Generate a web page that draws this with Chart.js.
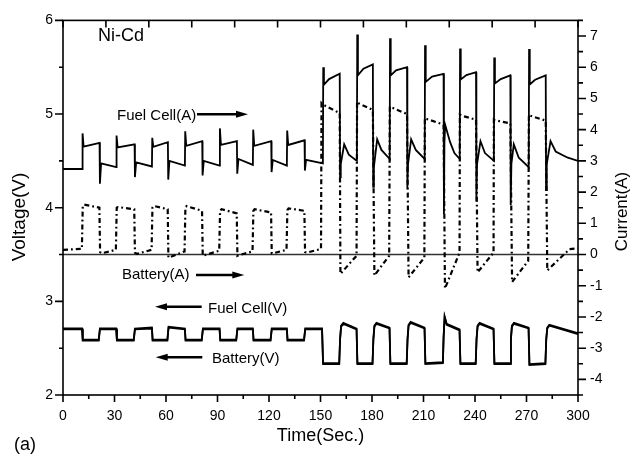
<!DOCTYPE html>
<html>
<head>
<meta charset="utf-8">
<script src="https://cdn.jsdelivr.net/npm/chart.js@4"></script>
<style>
html,body{margin:0;padding:0;background:#fff;}
canvas{display:block;}
</style>
</head>
<body>
<canvas id="c" width="644" height="458"></canvas>
<script>
// ---------- DATA ----------
// x tick labels (seconds), left ticks (V), right ticks (A)
const xTicks = [0,30,60,90,120,150,180,210,240,270,300];
const xMinorTicks = [15,45,75,105,135,165,195,225,255,285];
const topTicks = [0,25,50,75,100,125,150,175,200,225,250,275,300];
const leftTicks = [2,3,4,5,6];
const leftMinorTicks = [2.5,3.5,4.5,5.5];
const rightTicks = [-4,-3,-2,-1,0,1,2,3,4,5,6,7];
const rightMinorTicks = [-4.5,-3.5,-2.5,-1.5,-0.5,0.5,1.5,2.5,3.5,4.5,5.5,6.5,7.5];

// Fuel cell current (A), right axis
const fcCurT = [0,11.2,
 11.4,12.0,21.3,21.5,22.2,31.0,
 31.2,31.8,41.7,41.9,42.6,51.8,
 52.0,52.6,61.1,61.3,62.0,71.0,
 71.2,71.8,81.1,81.3,82.0,91.2,
 91.4,92.0,101.3,101.5,102.2,110.6,
 110.8,111.4,121.3,121.5,122.2,130.4,
 130.6,131.2,140.7,140.9,141.6,151.4,
 151.6,152.0,155.0,161.2,161.4,161.8,163.8,166.5,171.2,
 171.4,171.8,175.0,180.5,180.7,181.1,183.0,185.5,190.3,
 190.5,190.9,194.0,200.4,200.6,201.0,202.8,205.5,210.7,
 210.9,211.3,215.0,221.7,221.9,222.2,222.6,225.5,228.0,231.1,
 231.3,231.7,235.0,240.6,240.8,241.2,243.2,245.8,251.0,
 251.2,251.6,255.0,260.6,260.8,261.2,262.6,265.5,271.3,
 271.5,271.9,275.0,281.2,281.4,281.8,284.0,287.0,293.7,300];
const fcCurA = [2.74,2.74,
 3.88,3.46,3.58,2.27,2.92,2.80,
 3.81,3.43,3.53,2.48,2.95,2.82,
 3.74,3.45,3.60,2.40,3.00,2.85,
 3.95,3.48,3.63,2.53,3.00,2.85,
 4.04,3.51,3.63,2.59,3.06,2.87,
 4.00,3.48,3.63,2.64,3.03,2.85,
 3.97,3.51,3.66,2.69,3.03,2.92,
 6.00,5.44,5.62,5.79,2.48,2.90,3.53,3.20,3.00,
 7.05,5.74,5.95,6.09,2.17,2.80,3.69,3.35,3.06,
 6.93,5.74,5.90,6.00,2.11,2.90,3.69,3.35,3.06,
 6.70,5.53,5.70,5.79,1.30,3.60,4.16,3.60,3.25,3.06,
 6.60,5.61,5.75,5.84,1.70,2.90,3.63,3.25,3.00,
 6.31,5.48,5.62,5.74,1.59,2.90,3.53,3.10,2.80,
 6.58,5.45,5.60,5.74,2.06,2.90,3.63,3.30,3.11,3.00];

// Battery current (A), right axis
const batCurT = [0,11.0,11.5,12.3,21.2,21.6,22.5,30.8,
 31.3,32.0,41.5,41.9,43.0,51.6,
 52.1,52.8,61.0,61.4,62.5,70.8,
 71.3,72.0,81.0,81.4,82.5,91.0,
 91.5,92.3,101.2,101.6,102.5,110.4,
 110.9,111.6,121.2,121.6,122.5,130.2,
 130.7,131.4,140.6,141.0,142.0,150.3,
 150.6,151.5,161.2,161.6,170.0,171.0,
 171.3,172.0,180.5,181.4,190.0,
 190.4,191.0,200.4,201.3,210.5,
 210.8,211.5,221.7,222.5,231.0,
 231.2,232.0,240.6,241.5,250.8,
 251.0,251.7,260.6,261.6,271.0,
 271.4,272.0,281.2,282.1,295.0,300];
const batCurA = [0.15,0.18,1.55,1.60,1.50,0.08,0.04,0.15,
 1.50,1.52,1.45,0.06,0.02,0.15,
 1.50,1.56,1.45,-0.10,-0.08,0.10,
 1.50,1.55,1.40,-0.04,-0.02,0.12,
 1.40,1.45,1.32,-0.04,-0.02,0.10,
 1.40,1.45,1.35,0.04,0.04,0.15,
 1.42,1.48,1.40,0.08,0.06,0.18,
 4.85,4.80,4.53,-0.62,-0.10,-0.05,
 4.90,4.85,4.63,-0.67,-0.04,
 4.74,4.72,4.50,-0.73,-0.10,
 4.37,4.35,4.16,-1.09,0.06,
 4.48,4.45,4.32,-0.57,0.06,
 4.32,4.30,4.20,-0.88,-0.20,
 4.48,4.45,4.29,-0.51,0.17,0.20];

// Voltages (V), left axis
const voltT = [0,11.1,11.5,20.8,21.5,31.0,31.4,41.2,41.9,51.8,52.2,60.8,61.5,71.0,71.4,80.8,81.5,91.2,91.6,100.9,101.6,110.6,111.0,120.9,121.6,130.4,130.8,140.4,141.1,150.9,
 151.5,160.9,161.4,162.0,163.3,171.0,171.5,180.3,180.8,181.4,182.6,190.2,190.7,200.2,200.7,201.3,202.5,210.6,211.1,221.3,221.7,222.3,223.5,231.0,231.5,240.4,240.9,241.5,242.7,250.8,251.3,260.4,260.9,261.5,262.7,271.2,271.7,281.0,281.5,282.1,283.3,300];
const fcVolt = [2.71,2.71,2.59,2.59,2.71,2.71,2.59,2.59,2.71,2.72,2.59,2.59,2.73,2.71,2.59,2.59,2.71,2.71,2.59,2.59,2.71,2.71,2.59,2.59,2.71,2.71,2.59,2.59,2.71,2.71,
 2.34,2.34,2.60,2.74,2.77,2.71,2.34,2.34,2.60,2.74,2.77,2.72,2.34,2.34,2.60,2.75,2.78,2.72,2.34,2.35,2.62,2.84,2.76,2.70,2.34,2.34,2.60,2.74,2.77,2.71,2.34,2.34,2.60,2.74,2.77,2.72,2.33,2.34,2.60,2.72,2.75,2.66];
const batVolt = [2.70,2.70,2.58,2.58,2.70,2.70,2.58,2.58,2.70,2.71,2.58,2.58,2.72,2.70,2.58,2.58,2.70,2.70,2.58,2.58,2.70,2.70,2.58,2.58,2.70,2.70,2.58,2.58,2.70,2.70,
 2.33,2.33,2.59,2.73,2.76,2.70,2.33,2.33,2.59,2.73,2.76,2.71,2.33,2.33,2.59,2.74,2.77,2.71,2.33,2.34,2.61,2.83,2.75,2.69,2.33,2.33,2.59,2.73,2.76,2.70,2.33,2.33,2.59,2.73,2.76,2.71,2.32,2.33,2.59,2.71,2.74,2.65];

// ---------- CHART ----------
const FONT = 'Liberation Sans, Arial, Helvetica, sans-serif';
const toXY = (t, v) => t.map((x, i) => ({x: x, y: v[i]}));

function drawArrow(ctx, x1, x2, y) {
  const dir = x2 > x1 ? 1 : -1;
  const headLen = 12, headHalf = 3.5;
  ctx.beginPath();
  ctx.lineWidth = 2.6;
  ctx.moveTo(x1, y);
  ctx.lineTo(x2 - dir * headLen + dir * 1, y);
  ctx.stroke();
  ctx.beginPath();
  ctx.moveTo(x2, y);
  ctx.lineTo(x2 - dir * headLen, y - headHalf);
  ctx.lineTo(x2 - dir * headLen, y + headHalf);
  ctx.closePath();
  ctx.fill();
}

const framePlugin = {
  id: 'frame',
  beforeDatasetsDraw(chart) {
    const {ctx, chartArea: a, scales} = chart;
    const y0 = scales.yR.getPixelForValue(0);
    ctx.save();
    ctx.strokeStyle = '#333';
    ctx.lineWidth = 1.5;
    ctx.beginPath();
    ctx.moveTo(a.left, y0);
    ctx.lineTo(a.right, y0);
    ctx.stroke();
    ctx.restore();
  },
  afterDraw(chart) {
    const {ctx, chartArea: a, scales} = chart;
    const sx = scales.x, yl = scales.yL, yr = scales.yR;
    ctx.save();
    ctx.strokeStyle = '#000';
    ctx.fillStyle = '#000';
    ctx.lineWidth = 1.6;
    ctx.strokeRect(a.left, a.top, a.right - a.left, a.bottom - a.top);
    ctx.beginPath();
    xTicks.forEach(v => { const p = sx.getPixelForValue(v); ctx.moveTo(p, a.bottom); ctx.lineTo(p, a.bottom + 7); });
    xMinorTicks.forEach(v => { const p = sx.getPixelForValue(v); ctx.moveTo(p, a.bottom); ctx.lineTo(p, a.bottom + 4); });
    topTicks.forEach(v => { const p = sx.getPixelForValue(v); ctx.moveTo(p, a.top); ctx.lineTo(p, a.top + 7); });
    leftTicks.forEach(v => { const p = yl.getPixelForValue(v); ctx.moveTo(a.left, p); ctx.lineTo(a.left - 8, p); });
    leftMinorTicks.forEach(v => { const p = yl.getPixelForValue(v); ctx.moveTo(a.left, p); ctx.lineTo(a.left - 4, p); });
    rightTicks.forEach(v => { const p = yr.getPixelForValue(v); ctx.moveTo(a.right, p); ctx.lineTo(a.right + 8, p); });
    rightMinorTicks.forEach(v => { const p = yr.getPixelForValue(v); ctx.moveTo(a.right, p); ctx.lineTo(a.right + 5, p); });
    ctx.stroke();

    ctx.textAlign = 'left';
    ctx.textBaseline = 'alphabetic';
    ctx.font = '18px ' + FONT;
    ctx.fillText('Ni-Cd', 98, 41);
    ctx.fillText('(a)', 14, 449.5);
    ctx.textAlign = 'center';
    ctx.fillText('Time(Sec.)', 320.5, 441);

    ctx.textAlign = 'left';
    ctx.font = '15px ' + FONT;
    ctx.fillText('Fuel Cell(A)', 117, 120);
    ctx.fillText('Battery(A)', 122, 278.5);
    ctx.fillText('Fuel Cell(V)', 208, 312.7);
    ctx.fillText('Battery(V)', 212, 363);

    drawArrow(ctx, 197, 248, 114.3);
    drawArrow(ctx, 196, 244.3, 275);
    drawArrow(ctx, 201.7, 155, 306.7);
    drawArrow(ctx, 202.3, 155.7, 357.3);

    ctx.textAlign = 'center';
    ctx.textBaseline = 'middle';
    ctx.save();
    ctx.translate(20, 217);
    ctx.rotate(-Math.PI / 2);
    ctx.font = '19px ' + FONT;
    ctx.fillText('Voltage(V)', 0, 0);
    ctx.restore();
    ctx.save();
    ctx.translate(622, 211.5);
    ctx.rotate(-Math.PI / 2);
    ctx.font = '17px ' + FONT;
    ctx.fillText('Current(A)', 0, 0);
    ctx.restore();
    ctx.restore();
  }
};

const tickFont = {family: FONT, size: 14};
const setTicks = arr => (s => { s.ticks = arr.map(v => ({value: v})); });

new Chart(document.getElementById('c'), {
  type: 'line',
  data: {
    datasets: [
      {label: 'Fuel Cell(A)', data: toXY(fcCurT, fcCurA), yAxisID: 'yR', borderColor: '#000', borderWidth: 1.8, pointRadius: 0, tension: 0},
      {label: 'Battery(A)', data: toXY(batCurT, batCurA), yAxisID: 'yR', borderColor: '#000', borderWidth: 2.2, borderDash: [5, 3, 1.8, 3], pointRadius: 0, tension: 0},
      {label: 'Fuel Cell(V)', data: toXY(voltT, fcVolt), yAxisID: 'yL', borderColor: '#000', borderWidth: 1.8, pointRadius: 0, tension: 0},
      {label: 'Battery(V)', data: toXY(voltT, batVolt), yAxisID: 'yL', borderColor: '#000', borderWidth: 1.8, pointRadius: 0, tension: 0}
    ]
  },
  options: {
    responsive: false,
    animation: false,
    devicePixelRatio: 1,
    layout: {padding: {top: 14, left: 0, right: 0, bottom: 0}},
    plugins: {legend: {display: false}, tooltip: {enabled: false}},
    scales: {
      x: {
        type: 'linear', position: 'bottom', min: 0, max: 300,
        grid: {display: false, drawTicks: false}, border: {display: false},
        ticks: {font: tickFont, color: '#000', padding: 13, maxRotation: 0, autoSkip: false},
        afterBuildTicks: setTicks(xTicks),
        afterFit: s => { s.height = 63; }
      },
      yL: {
        type: 'linear', position: 'left', min: 2, max: 6,
        grid: {display: false, drawTicks: false}, border: {display: false},
        ticks: {font: tickFont, color: '#000', padding: 10, autoSkip: false},
        afterBuildTicks: setTicks(leftTicks),
        afterFit: s => { s.width = 63; }
      },
      yR: {
        type: 'linear', position: 'right', min: -4.5, max: 7.5,
        grid: {display: false, drawTicks: false}, border: {display: false},
        ticks: {font: tickFont, color: '#000', padding: 12, autoSkip: false},
        afterBuildTicks: setTicks(rightTicks),
        afterFit: s => { s.width = 66; }
      }
    }
  },
  plugins: [framePlugin]
});
</script>
</body>
</html>
